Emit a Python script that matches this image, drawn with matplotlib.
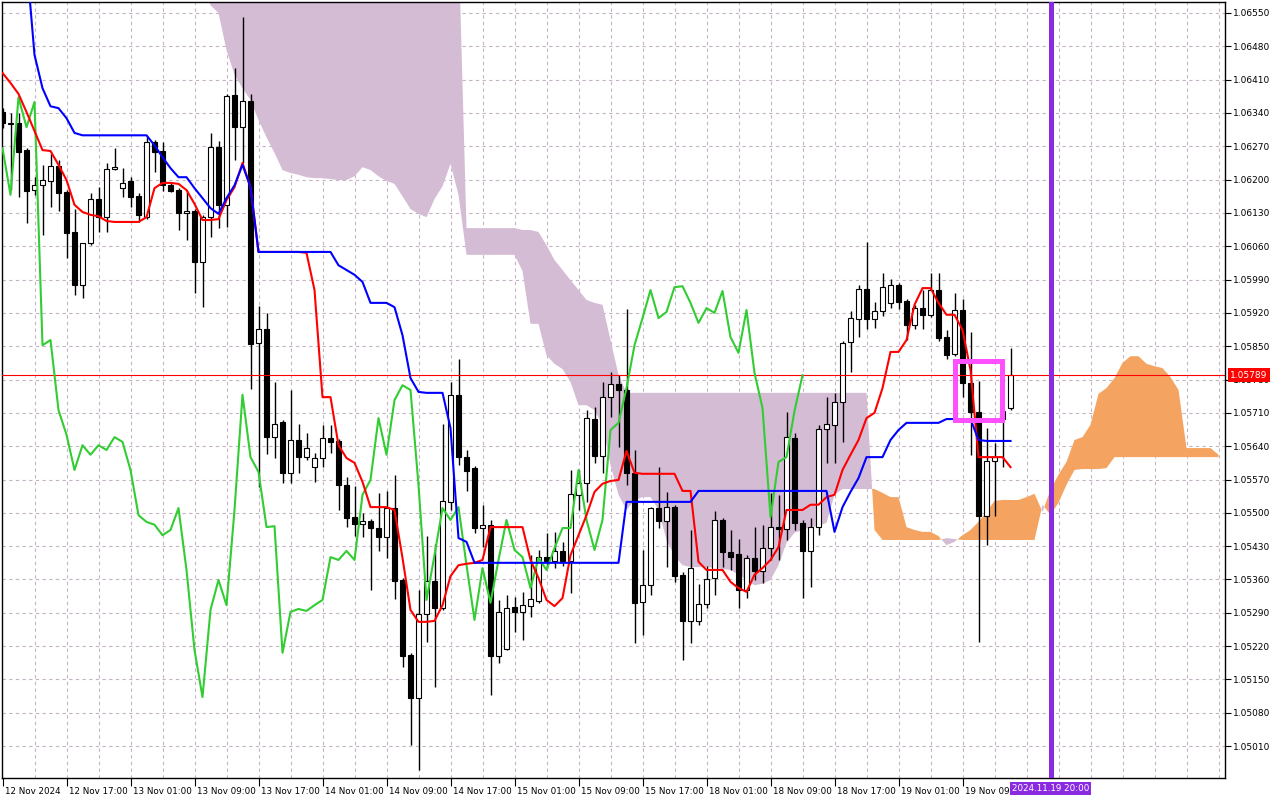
import matplotlib
matplotlib.use("Agg")
import matplotlib.pyplot as plt
import matplotlib.transforms as mtransforms
from matplotlib.patches import Rectangle
import numpy as np

# EURUSD H1, 12 Nov 09:00 .. 19 Nov 15:00 (one bar per hour)
opens = [1.06342, 1.06316, 1.06319, 1.06262, 1.06178, 1.06188, 1.06197, 1.06228, 1.06174, 1.06090,
         1.05978, 1.06067, 1.06159, 1.06121, 1.06222, 1.06182, 1.06197, 1.06165, 1.06121, 1.06279,
         1.06260, 1.06188, 1.06178, 1.06130, 1.06134, 1.06027, 1.06121, 1.06268, 1.06147, 1.06378,
         1.06310, 1.06365, 1.05857, 1.05886, 1.05659, 1.05691, 1.05584, 1.05653, 1.05617, 1.05596,
         1.05615, 1.05657, 1.05651, 1.05559, 1.05491, 1.05477, 1.05483, 1.05468, 1.05449, 1.05510,
         1.05359, 1.05202, 1.05111, 1.05288, 1.05357, 1.05300, 1.05523, 1.05748, 1.05617, 1.05594,
         1.05468, 1.05475, 1.05199, 1.05214, 1.05302, 1.05292, 1.05304, 1.05315, 1.05407, 1.05399,
         1.05420, 1.05399, 1.05538, 1.05563, 1.05697, 1.05619, 1.05743, 1.05771, 1.05758, 1.05584,
         1.05313, 1.05349, 1.05510, 1.05483, 1.05512, 1.05370, 1.05273, 1.05273, 1.05309, 1.05363,
         1.05485, 1.05418, 1.05414, 1.05338, 1.05405, 1.05378, 1.05426, 1.05470, 1.05466, 1.05657,
         1.05479, 1.05420, 1.05470, 1.05676, 1.05685, 1.05733, 1.05859, 1.05907, 1.05970, 1.05907,
         1.05924, 1.05941, 1.05978, 1.05945, 1.05895, 1.05930, 1.05916, 1.05968, 1.05869, 1.05834,
         1.05926, 1.05773, 1.05712, 1.05493, 1.05609, 1.05697, 1.05720]
highs = [1.06350, 1.06340, 1.06340, 1.06266, 1.06205, 1.06231, 1.06254, 1.06241, 1.06178, 1.06138,
         1.06067, 1.06172, 1.06184, 1.06235, 1.06266, 1.06224, 1.06205, 1.06172, 1.06289, 1.06283,
         1.06279, 1.06193, 1.06182, 1.06178, 1.06138, 1.06126, 1.06298, 1.06281, 1.06380, 1.06434,
         1.06541, 1.06380, 1.05934, 1.05920, 1.05775, 1.05695, 1.05758, 1.05687, 1.05668, 1.05626,
         1.05685, 1.05685, 1.05655, 1.05575, 1.05556, 1.05500, 1.05487, 1.05542, 1.05546, 1.05580,
         1.05363, 1.05206, 1.05338, 1.05451, 1.05435, 1.05687, 1.05775, 1.05823, 1.05632, 1.05598,
         1.05517, 1.05485, 1.05317, 1.05328, 1.05323, 1.05334, 1.05412, 1.05422, 1.05458, 1.05460,
         1.05439, 1.05590, 1.05590, 1.05716, 1.05722, 1.05775, 1.05796, 1.05790, 1.05928, 1.05632,
         1.05422, 1.05512, 1.05596, 1.05544, 1.05517, 1.05376, 1.05464, 1.05351, 1.05388, 1.05504,
         1.05489, 1.05464, 1.05445, 1.05412, 1.05470, 1.05475, 1.05542, 1.05538, 1.05712, 1.05668,
         1.05485, 1.05489, 1.05685, 1.05743, 1.05752, 1.05861, 1.05924, 1.05978, 1.06069, 1.05943,
         1.06004, 1.05991, 1.05983, 1.05949, 1.05937, 1.05968, 1.06004, 1.06004, 1.05884, 1.05962,
         1.05949, 1.05880, 1.05777, 1.05678, 1.05647, 1.05724, 1.05846]
lows = [1.06308, 1.06178, 1.06163, 1.06109, 1.06168, 1.06084, 1.06142, 1.06134, 1.06035, 1.05957,
        1.05951, 1.06062, 1.06090, 1.06090, 1.06220, 1.06163, 1.06142, 1.06111, 1.06117, 1.06216,
        1.06176, 1.06174, 1.06094, 1.06073, 1.05962, 1.05932, 1.06079, 1.06098, 1.06100, 1.06241,
        1.06235, 1.05760, 1.05554, 1.05624, 1.05615, 1.05563, 1.05563, 1.05584, 1.05611, 1.05565,
        1.05596, 1.05626, 1.05506, 1.05470, 1.05451, 1.05449, 1.05338, 1.05420, 1.05405, 1.05319,
        1.05176, 1.05013, 1.04960, 1.05229, 1.05134, 1.05296, 1.05506, 1.05600, 1.05546, 1.05458,
        1.05428, 1.05118, 1.05185, 1.05212, 1.05250, 1.05233, 1.05281, 1.05311, 1.05384, 1.05384,
        1.05388, 1.05332, 1.05506, 1.05523, 1.05605, 1.05584, 1.05701, 1.05638, 1.05559, 1.05227,
        1.05244, 1.05328, 1.05468, 1.05386, 1.05355, 1.05191, 1.05227, 1.05265, 1.05300, 1.05328,
        1.05386, 1.05380, 1.05300, 1.05321, 1.05359, 1.05353, 1.05401, 1.05401, 1.05443, 1.05464,
        1.05321, 1.05344, 1.05454, 1.05605, 1.05605, 1.05649, 1.05796, 1.05869, 1.05886, 1.05888,
        1.05913, 1.05930, 1.05928, 1.05863, 1.05886, 1.05886, 1.05911, 1.05861, 1.05823, 1.05829,
        1.05743, 1.05622, 1.05229, 1.05433, 1.05493, 1.05596, 1.05716]
closes = [1.06319, 1.06318, 1.06258, 1.06176, 1.06188, 1.06199, 1.06228, 1.06172, 1.06088, 1.05978,
          1.06067, 1.06159, 1.06121, 1.06222, 1.06226, 1.06193, 1.06163, 1.06126, 1.06279, 1.06258,
          1.06188, 1.06176, 1.06130, 1.06134, 1.06027, 1.06121, 1.06268, 1.06147, 1.06375, 1.06310,
          1.06365, 1.05855, 1.05886, 1.05659, 1.05687, 1.05584, 1.05653, 1.05617, 1.05636, 1.05615,
          1.05657, 1.05649, 1.05559, 1.05489, 1.05477, 1.05483, 1.05468, 1.05449, 1.05510, 1.05357,
          1.05199, 1.05111, 1.05288, 1.05357, 1.05300, 1.05525, 1.05748, 1.05617, 1.05588, 1.05468,
          1.05475, 1.05199, 1.05292, 1.05300, 1.05292, 1.05307, 1.05319, 1.05407, 1.05399, 1.05420,
          1.05399, 1.05540, 1.05563, 1.05699, 1.05619, 1.05743, 1.05771, 1.05758, 1.05584, 1.05311,
          1.05349, 1.05510, 1.05483, 1.05512, 1.05367, 1.05273, 1.05384, 1.05309, 1.05361, 1.05485,
          1.05418, 1.05407, 1.05338, 1.05405, 1.05378, 1.05426, 1.05470, 1.05466, 1.05659, 1.05479,
          1.05420, 1.05470, 1.05676, 1.05687, 1.05733, 1.05857, 1.05909, 1.05970, 1.05907, 1.05924,
          1.05974, 1.05978, 1.05943, 1.05895, 1.05930, 1.05916, 1.05968, 1.05867, 1.05832, 1.05926,
          1.05773, 1.05712, 1.05493, 1.05609, 1.05617, 1.05714, 1.05789]

# Ichimoku lines
tenkan = [1.06424, 1.06403, 1.06380, 1.06342, 1.06302, 1.06262, 1.06260, 1.06231, 1.06199, 1.06147,
          1.06132, 1.06126, 1.06123, 1.06113, 1.06111, 1.06111, 1.06111, 1.06111, 1.06121, 1.06182,
          1.06193, 1.06193, 1.06191, 1.06178, 1.06149, 1.06115, 1.06115, 1.06117, 1.06157, 1.06184,
          1.06235, 1.06184, 1.06048, 1.06048, 1.06048, 1.06048, 1.06048, 1.06048, 1.06046, 1.05968,
          1.05743, 1.05743, 1.05642, 1.05615, 1.05605, 1.05565, 1.05512, 1.05512, 1.05512, 1.05506,
          1.05405, 1.05296, 1.05271, 1.05271, 1.05273, 1.05306, 1.05367, 1.05390, 1.05393, 1.05395,
          1.05401, 1.05470, 1.05470, 1.05470, 1.05470, 1.05470, 1.05401, 1.05363, 1.05317, 1.05304,
          1.05321, 1.05411, 1.05453, 1.05495, 1.05544, 1.05561, 1.05567, 1.05569, 1.05630, 1.05584,
          1.05582, 1.05582, 1.05582, 1.05582, 1.05582, 1.05546, 1.05546, 1.05397, 1.05380, 1.05380,
          1.05380, 1.05355, 1.05342, 1.05334, 1.05370, 1.05384, 1.05401, 1.05428, 1.05506, 1.05506,
          1.05506, 1.05517, 1.05517, 1.05533, 1.05538, 1.05590, 1.05622, 1.05653, 1.05699, 1.05710,
          1.05762, 1.05838, 1.05838, 1.05863, 1.05937, 1.05972, 1.05972, 1.05941, 1.05916, 1.05916,
          1.05884, 1.05800, 1.05617, 1.05617, 1.05617, 1.05617, 1.05596]
kijun = [1.06661, 1.06661, 1.06661, 1.06661, 1.06462, 1.06392, 1.06354, 1.06350, 1.06329, 1.06298,
         1.06293, 1.06293, 1.06293, 1.06293, 1.06293, 1.06293, 1.06293, 1.06293, 1.06293, 1.06272,
         1.06247, 1.06224, 1.06205, 1.06205, 1.06182, 1.06161, 1.06140, 1.06128, 1.06161, 1.06188,
         1.06231, 1.06184, 1.06048, 1.06048, 1.06048, 1.06048, 1.06048, 1.06048, 1.06048, 1.06048,
         1.06048, 1.06048, 1.06020, 1.06010, 1.06000, 1.05985, 1.05941, 1.05941, 1.05941, 1.05932,
         1.05873, 1.05783, 1.05754, 1.05752, 1.05752, 1.05752, 1.05678, 1.05447, 1.05439, 1.05395,
         1.05395, 1.05395, 1.05395, 1.05395, 1.05395, 1.05395, 1.05395, 1.05395, 1.05395, 1.05395,
         1.05395, 1.05395, 1.05395, 1.05395, 1.05395, 1.05395, 1.05395, 1.05395, 1.05523, 1.05523,
         1.05523, 1.05523, 1.05523, 1.05523, 1.05523, 1.05523, 1.05523, 1.05546, 1.05546, 1.05546,
         1.05546, 1.05546, 1.05546, 1.05546, 1.05546, 1.05546, 1.05546, 1.05546, 1.05546, 1.05546,
         1.05546, 1.05546, 1.05546, 1.05546, 1.05460, 1.05512, 1.05544, 1.05573, 1.05617, 1.05617,
         1.05617, 1.05653, 1.05674, 1.05689, 1.05689, 1.05689, 1.05689, 1.05689, 1.05697, 1.05697,
         1.05697, 1.05697, 1.05653, 1.05651, 1.05651, 1.05651, 1.05651]
chikou = [1.06266, 1.06168, 1.06373, 1.06310, 1.06363, 1.05852, 1.05863, 1.05716, 1.05664, 1.05590,
          1.05642, 1.05622, 1.05642, 1.05632, 1.05659, 1.05649, 1.05590, 1.05495, 1.05481, 1.05475,
          1.05453, 1.05464, 1.05510, 1.05380, 1.05212, 1.05113, 1.05296, 1.05359, 1.05306, 1.05506,
          1.05748, 1.05617, 1.05586, 1.05470, 1.05472, 1.05206, 1.05292, 1.05298, 1.05294, 1.05306,
          1.05317, 1.05407, 1.05401, 1.05420, 1.05401, 1.05538, 1.05569, 1.05699, 1.05622, 1.05737,
          1.05768, 1.05758, 1.05558, 1.05317, 1.05411, 1.05510, 1.05485, 1.05512, 1.05390, 1.05275,
          1.05384, 1.05311, 1.05401, 1.05485, 1.05422, 1.05407, 1.05342, 1.05405, 1.05380, 1.05426,
          1.05468, 1.05468, 1.05590, 1.05485, 1.05422, 1.05485, 1.05674, 1.05689, 1.05762, 1.05852,
          1.05909, 1.05968, 1.05909, 1.05922, 1.05974, 1.05976, 1.05941, 1.05899, 1.05930, 1.05920,
          1.05966, 1.05869, 1.05836, 1.05926, 1.05794, 1.05720, 1.05491, 1.05607, 1.05617, 1.05714,
          1.05789]
# cloud, from bar 25 to bar 152 (26 bars ahead of the last candle)
span_a = [1.06619, 1.06566, 1.06550, 1.06472, 1.06420, 1.06392, 1.06367, 1.06325, 1.06289, 1.06256,
          1.06220, 1.06214, 1.06210, 1.06205, 1.06203, 1.06203, 1.06201, 1.06199, 1.06199, 1.06207,
          1.06226, 1.06220, 1.06207, 1.06197, 1.06191, 1.06165, 1.06138, 1.06128, 1.06121, 1.06159,
          1.06186, 1.06233, 1.06168, 1.06042, 1.06042, 1.06042, 1.06042, 1.06042, 1.06042, 1.06042,
          1.06008, 1.05897, 1.05897, 1.05831, 1.05813, 1.05802, 1.05775, 1.05726, 1.05726, 1.05716,
          1.05685, 1.05600, 1.05538, 1.05506, 1.05527, 1.05533, 1.05533, 1.05506, 1.05443, 1.05409,
          1.05390, 1.05386, 1.05386, 1.05386, 1.05384, 1.05382, 1.05380, 1.05370, 1.05359, 1.05348,
          1.05351, 1.05359, 1.05390, 1.05437, 1.05458, 1.05464, 1.05470, 1.05472, 1.05479, 1.05538,
          1.05550, 1.05550, 1.05550, 1.05550, 1.05550, 1.05542, 1.05533, 1.05533, 1.05470, 1.05464,
          1.05460, 1.05460, 1.05451, 1.05432, 1.05439, 1.05453, 1.05464, 1.05481, 1.05502, 1.05525,
          1.05527, 1.05527, 1.05527, 1.05533, 1.05540, 1.05502, 1.05548, 1.05580, 1.05607, 1.05653,
          1.05659, 1.05685, 1.05750, 1.05762, 1.05783, 1.05815, 1.05829, 1.05829, 1.05813, 1.05808,
          1.05804, 1.05785, 1.05758, 1.05636, 1.05636, 1.05636, 1.05636, 1.05622]
span_b = [1.06703, 1.06703, 1.06703, 1.06703, 1.06703, 1.06703, 1.06703, 1.06703, 1.06703, 1.06703,
          1.06703, 1.06703, 1.06703, 1.06703, 1.06703, 1.06703, 1.06703, 1.06703, 1.06703, 1.06703,
          1.06703, 1.06703, 1.06703, 1.06703, 1.06703, 1.06703, 1.06703, 1.06703, 1.06703, 1.06703,
          1.06703, 1.06703, 1.06703, 1.06098, 1.06098, 1.06098, 1.06098, 1.06098, 1.06098, 1.06098,
          1.06094, 1.06094, 1.06090, 1.06062, 1.06031, 1.06010, 1.05989, 1.05968, 1.05947, 1.05941,
          1.05937, 1.05863, 1.05790, 1.05752, 1.05752, 1.05752, 1.05752, 1.05752, 1.05752, 1.05752,
          1.05752, 1.05752, 1.05752, 1.05752, 1.05752, 1.05752, 1.05752, 1.05752, 1.05752, 1.05752,
          1.05752, 1.05752, 1.05752, 1.05752, 1.05752, 1.05752, 1.05752, 1.05752, 1.05752, 1.05752,
          1.05752, 1.05752, 1.05752, 1.05752, 1.05464, 1.05443, 1.05443, 1.05443, 1.05443, 1.05443,
          1.05443, 1.05443, 1.05443, 1.05447, 1.05445, 1.05443, 1.05443, 1.05443, 1.05443, 1.05443,
          1.05443, 1.05443, 1.05443, 1.05443, 1.05443, 1.05517, 1.05496, 1.05521, 1.05559, 1.05590,
          1.05592, 1.05592, 1.05592, 1.05594, 1.05617, 1.05617, 1.05617, 1.05617, 1.05617, 1.05617,
          1.05617, 1.05617, 1.05617, 1.05617, 1.05617, 1.05617, 1.05617, 1.05617]

price_ticks = [1.05010, 1.05080, 1.05150, 1.05220, 1.05290, 1.05360, 1.05430, 1.05500, 1.05570,
               1.05640, 1.05710, 1.05780, 1.05850, 1.05920, 1.05990, 1.06060, 1.06130, 1.06200,
               1.06270, 1.06340, 1.06410, 1.06480, 1.06550]
time_labels = ["12 Nov 2024", "12 Nov 17:00", "13 Nov 01:00", "13 Nov 09:00", "13 Nov 17:00",
               "14 Nov 01:00", "14 Nov 09:00", "14 Nov 17:00", "15 Nov 01:00", "15 Nov 09:00",
               "15 Nov 17:00", "18 Nov 01:00", "18 Nov 09:00", "18 Nov 17:00", "19 Nov 01:00",
               "19 Nov 09:00"]
marker_time = "2024.11.19 20:00"
marker_bar = 131
box_bars = (119.04, 124.91)
box_prices = (1.05696, 1.05818)

plt.rcParams['font.family'] = ['DejaVu Sans']

o = np.array(opens); h = np.array(highs); l = np.array(lows); c = np.array(closes)
bars = np.arange(len(c))
cloud_bars = np.arange(25, 25 + len(span_a))
a = np.array(span_a); b = np.array(span_b)

fig = plt.figure(figsize=(12.8, 8), dpi=100)
ax = fig.add_axes([2 / 1280, 22 / 800, 1223 / 1280, 776 / 800])
ax.set_xlim(-0.0625, 152.81)
ax.set_ylim(1.04943, 1.06573)

grid_kw = dict(color='#c4b4c4', lw=0.8, ls=(0, (3, 3)), zorder=0)
for gx in range(4, 153, 4):
    ax.axvline(gx, **grid_kw)
for gy in price_ticks:
    ax.axhline(gy, **grid_kw)

# kumo
ax.fill_between(cloud_bars, a, b, where=a >= b, interpolate=True, color='#f4a460', lw=0, zorder=1)
ax.fill_between(cloud_bars, a, b, where=a < b, interpolate=True, color='#d4bcd4', lw=0, zorder=1)

# candles
ax.vlines(bars, l, h, color='black', lw=1, zorder=3)
up = c >= o
body_low = np.minimum(o, c)
body_h = np.maximum(np.abs(c - o), 0.00002)
ax.bar(bars[up], body_h[up], bottom=body_low[up], width=0.62, color='white',
       edgecolor='black', lw=0.8, zorder=4)
ax.bar(bars[~up], body_h[~up], bottom=body_low[~up], width=0.62, color='black',
       edgecolor='black', lw=0.8, zorder=4)

ax.plot(np.arange(len(chikou)), chikou, color='#32cd32', lw=1.5, zorder=5)
ax.plot(bars, tenkan, color='#ff0000', lw=1.5, zorder=5)
ax.plot(bars, kijun, color='#0000ff', lw=1.5, zorder=6)

ax.axhline(c[-1], color='#ff0000', lw=0.8, zorder=4.5)
ax.add_patch(Rectangle((box_bars[0], box_prices[0]), box_bars[1] - box_bars[0],
                       box_prices[1] - box_prices[0], fill=False, edgecolor='#ff50ff',
                       lw=3.6, zorder=8))
ax.axvline(marker_bar, color='#8a2be2', lw=3.6, zorder=7)

# axes
for s in ax.spines.values():
    s.set_color('black')
    s.set_linewidth(1)
ax.yaxis.tick_right()
ax.set_yticks(price_ticks)
ax.set_yticklabels([f"{t:.5f}" for t in price_ticks])
ax.tick_params(axis='y', direction='out', length=4, width=0.8, pad=2, labelsize=6.5)
ax.set_xticks(bars[::8][:len(time_labels)])
ax.set_xticklabels(time_labels)
ax.tick_params(axis='x', direction='out', length=6, width=0.8, pad=0.5, labelsize=6.3)
shift = mtransforms.ScaledTranslation(2 / 100, 0, fig.dpi_scale_trans)
for lab in ax.get_xticklabels():
    lab.set_ha('left')
    lab.set_transform(lab.get_transform() + shift)

ytrans = mtransforms.blended_transform_factory(ax.transAxes, ax.transData)
ax.text(1.004, c[-1], f"{c[-1]:.5f}", transform=ytrans, ha='left', va='center',
        color='white', fontsize=6.5, clip_on=False, zorder=10,
        bbox=dict(boxstyle='square,pad=0.25', fc='#ff0000', ec='none'))
xtrans = mtransforms.blended_transform_factory(ax.transData, ax.transAxes)
xtrans = mtransforms.offset_copy(xtrans, fig=fig, y=-6, units='dots')
ax.text(marker_bar, 0, marker_time, transform=xtrans, ha='center', va='top',
        color='white', fontsize=6.3, clip_on=False, zorder=10,
        bbox=dict(boxstyle='square,pad=0.25', fc='#8a2be2', ec='none'))

fig.savefig('out.png', dpi=100, facecolor='white')
